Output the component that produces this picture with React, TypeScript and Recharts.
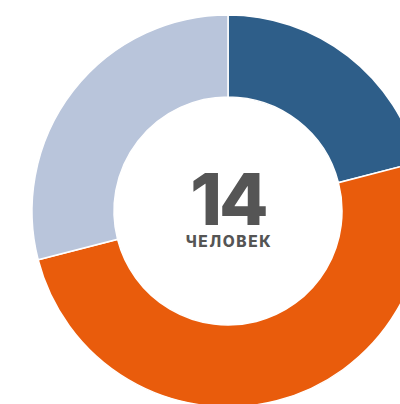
import { PieChart, Pie, Cell, Label } from 'recharts'

const names = ['Группа 1', 'Группа 2', 'Группа 3']
const values = [21, 50, 29]
const colors = ['#2e5e89', '#e95c0c', '#b9c5db']
const total = '14'
const unit = 'ЧЕЛОВЕК'

const data = names.map((name, i) => ({ name, value: values[i] }))

// cx/cy are measured inside the chart's default 5px margin
const CX = 223
const CY = 206

export default function App() {
  return (
    <>
      <style>{'body{margin:0;overflow:hidden}'}</style>
      <PieChart width={400} height={404}>
        <Pie
          data={data}
          dataKey="value"
          cx={CX}
          cy={CY}
          innerRadius={114}
          outerRadius={196}
          startAngle={90}
          endAngle={-270}
          stroke="#ffffff"
          strokeWidth={1.5}
          isAnimationActive={false}
        >
          {data.map((entry, index) => (
            <Cell key={`cell-${index}`} fill={colors[index]} />
          ))}
          <Label
            position="center"
            content={(props: any) => {
              const vb = props.viewBox || {}
              const x = vb.cx ?? CX + 5
              const y = vb.cy ?? CY + 5
              return (
                <g>
                  <text
                    x={x}
                    y={y + 14}
                    textAnchor="middle"
                    fill="#555555"
                    fontFamily="Inter, sans-serif"
                    fontWeight={800}
                    fontSize={72}
                    letterSpacing={-3}
                  >
                    {total}
                  </text>
                  <text
                    x={x + 1}
                    y={y + 36}
                    textAnchor="middle"
                    fill="#555555"
                    fontFamily="Inter, sans-serif"
                    fontWeight={800}
                    fontSize={15.5}
                    letterSpacing={1.6}
                  >
                    {unit}
                  </text>
                </g>
              )
            }}
          />
        </Pie>
      </PieChart>
    </>
  )
}
